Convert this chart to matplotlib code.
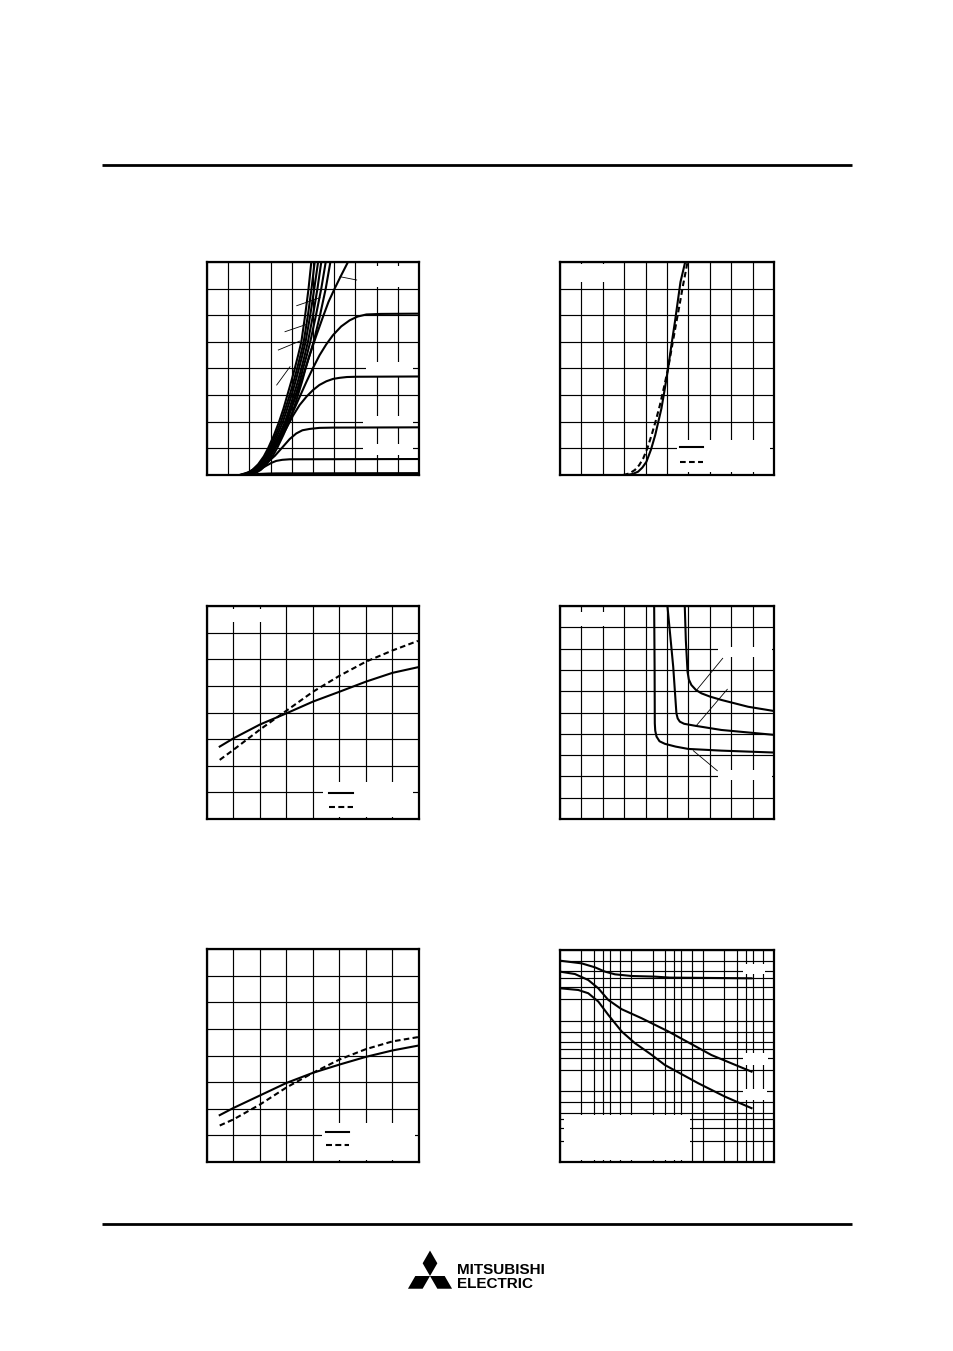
import matplotlib
matplotlib.use("Agg")
import matplotlib.pyplot as plt
from matplotlib.patches import Rectangle, Polygon
import numpy as np

plt.rcParams['lines.scale_dashes'] = False

W, H = 954, 1351

# ---------------- data (grid units unless noted) ----------------
# plot 1: family of curves, x 0..10 div, y 0..8 div
steep_y = [0, 0.1, 0.2, 0.4, 0.7, 1, 1.5, 2, 2.5, 3, 3.5, 4, 4.5, 5, 6, 7, 8]
steep_x = [
    [1.54, 1.95, 2.15, 2.41, 2.68, 2.88, 3.16, 3.40, 3.61, 3.79, 3.97, 4.14, 4.30, 4.45, 4.63, 4.79, 4.92],
    [1.62, 2.03, 2.23, 2.48, 2.76, 2.96, 3.24, 3.49, 3.70, 3.90, 4.08, 4.25, 4.41, 4.56, 4.76, 4.93, 5.08],
    [1.70, 2.11, 2.31, 2.56, 2.83, 3.03, 3.32, 3.58, 3.79, 3.99, 4.17, 4.34, 4.50, 4.65, 4.87, 5.06, 5.24],
    [1.78, 2.19, 2.39, 2.64, 2.91, 3.11, 3.41, 3.68, 3.89, 4.09, 4.28, 4.45, 4.61, 4.76, 5.00, 5.21, 5.39],
    [1.86, 2.27, 2.47, 2.72, 3.00, 3.21, 3.50, 3.77, 3.98, 4.18, 4.37, 4.53, 4.71, 4.87, 5.14, 5.39, 5.60],
    [1.93, 2.35, 2.55, 2.80, 3.09, 3.30, 3.60, 3.87, 4.09, 4.29, 4.48, 4.65, 4.84, 5.03, 5.33, 5.60, 5.82],
]
curve_f_x = [1.54, 1.80, 2.01, 2.38, 2.64, 3.08, 3.43, 3.83, 4.21, 4.52, 4.84, 5.14, 5.47, 5.73, 6.02, 6.33, 6.65]
curve_f_y = [0, 0.05, 0.12, 0.30, 0.50, 1.0, 1.5, 2.2, 3.0, 3.7, 4.5, 5.2, 5.94, 6.5, 7.0, 7.5, 8.0]
curve_e_x = [1.70, 1.95, 2.20, 2.48, 2.85, 3.27, 3.65, 4.06, 4.38, 4.69, 5.00, 5.31, 5.62, 5.94,
             6.33, 6.73, 7.10, 7.52, 8.20, 10]
curve_e_y = [0, 0.05, 0.17, 0.38, 0.72, 1.12, 1.72, 2.38, 2.95, 3.50, 4.02, 4.50, 4.90, 5.25,
             5.58, 5.81, 5.95, 6.03, 6.05, 6.06]
curve_d_x = [1.70, 1.95, 2.17, 2.55, 2.96, 3.35, 3.74, 4.05, 4.37, 4.70, 5.00, 5.30, 5.63, 5.95,
             6.26, 6.60, 7.04, 10]
curve_d_y = [0, 0.06, 0.19, 0.42, 0.75, 1.20, 1.75, 2.22, 2.63, 2.95, 3.19, 3.38, 3.52, 3.61,
             3.65, 3.68, 3.69, 3.70]
curve_c_x = [1.62, 1.85, 2.01, 2.40, 2.80, 3.20, 3.58, 3.90, 4.21, 4.50, 4.84, 5.30, 5.94, 10]
curve_c_y = [0, 0.04, 0.10, 0.25, 0.44, 0.72, 1.06, 1.35, 1.56, 1.68, 1.73, 1.77, 1.78, 1.79]
curve_b_x = [1.62, 1.90, 2.17, 2.50, 2.80, 3.05, 3.27, 3.55, 3.90, 10]
curve_b_y = [0, 0.04, 0.10, 0.21, 0.35, 0.46, 0.53, 0.57, 0.59, 0.60]
curve_a_x = [1.70, 2.00, 2.48, 2.90, 3.27, 10]
curve_a_y = [0, 0.015, 0.04, 0.055, 0.06, 0.07]

# plot 2: transfer curves, two temperatures
tr_solid_x = [3.11, 3.40, 3.65, 3.85, 4.04, 4.25, 4.45, 4.60, 4.74, 4.90, 5.05, 5.21, 5.37, 5.50, 5.63, 5.85]
tr_solid_y = [0, 0.04, 0.125, 0.28, 0.50, 0.95, 1.50, 2.02, 2.50, 3.25, 4.00, 4.90, 5.75, 6.50, 7.25, 8.0]
tr_dash_x = [2.95, 3.25, 3.50, 3.70, 3.89, 4.08, 4.28, 4.48, 4.67, 4.86, 5.05, 5.25, 5.44, 5.60, 5.75, 5.96]
tr_dash_y = [0, 0.06, 0.19, 0.37, 0.625, 1.0, 1.50, 2.05, 2.63, 3.30, 4.00, 4.90, 5.75, 6.45, 7.13, 8.0]

# plot 3
p3_x = [0.48, 1.0, 2.0, 3.0, 4.0, 5.0, 6.0, 7.0, 7.96]
p3_solid = [2.72, 3.03, 3.55, 3.97, 4.41, 4.78, 5.16, 5.49, 5.70]
p3_dash = [2.22, 2.60, 3.36, 4.07, 4.78, 5.38, 5.91, 6.33, 6.69]

# plot 4: three curves
p4_a_x = [4.40, 4.42, 4.43, 4.45, 4.51, 4.65, 4.90, 5.40, 5.99, 7.54, 10]
p4_a_y = [10, 7.15, 4.49, 4.15, 3.87, 3.65, 3.53, 3.40, 3.29, 3.21, 3.12]
p4_b_x = [5.02, 5.29, 5.44, 5.50, 5.60, 5.80, 6.30, 7.54, 10]
p4_b_y = [10, 7.15, 4.96, 4.72, 4.57, 4.47, 4.38, 4.18, 3.95]
p4_c_x = [5.83, 5.88, 5.96, 6.02, 6.14, 6.35, 6.61, 7.00, 7.54, 8.79, 10]
p4_c_y = [10, 8.39, 6.91, 6.55, 6.29, 6.06, 5.90, 5.75, 5.59, 5.27, 5.07]

# plot 5
p5_x = [0.48, 1.0, 2.0, 3.0, 4.0, 5.0, 6.0, 7.0, 7.96]
p5_solid = [1.76, 2.03, 2.50, 2.97, 3.35, 3.66, 3.95, 4.19, 4.37]
p5_dash = [1.37, 1.60, 2.16, 2.80, 3.35, 3.85, 4.24, 4.53, 4.69]

# plot 6: capacitance, log-log (x 0.1..100, y 10..10000)
ciss_x = [0.1, 0.201, 0.309, 0.427, 0.59, 1.01, 2.14, 3.46, 48.4]
ciss_y = [7060, 6471, 5685, 4943, 4528, 4285, 4200, 4067, 3975]
coss_x = [0.1, 0.162, 0.249, 0.344, 0.475, 0.731, 1.39, 3.3, 13.3, 48.4]
coss_y = [4943, 4571, 3760, 2873, 1965, 1453, 1084, 704, 326, 190]
crss_x = [0.1, 0.18, 0.249, 0.344, 0.475, 0.731, 1.12, 1.92, 2.95, 8.69, 20.5, 48.4]
crss_y = [2873, 2719, 2443, 1866, 1208, 704, 482, 329, 236, 130, 84.2, 57.8]

# ---------------- drawing ----------------
fig = plt.figure(figsize=(W / 100, H / 100), dpi=100)

page = fig.add_axes([0, 0, 1, 1])
page.set_xlim(0, W)
page.set_ylim(H, 0)
page.axis("off")
page.plot([102, 852], [165, 165], color="black", lw=2.0, solid_capstyle="butt")
page.plot([102, 852], [1224, 1224], color="black", lw=2.0, solid_capstyle="butt")

# logo: three diamonds + name
cx, cy, a = 430.0, 1276.0, 14.7
for th in (90, 210, 330):
    pts = [(cx, cy)]
    for ang, r in ((th - 30, a), (th, a * np.sqrt(3)), (th + 30, a)):
        rr = np.radians(ang)
        pts.append((cx + r * np.cos(rr), cy - r * np.sin(rr)))
    page.add_patch(Polygon(pts, closed=True, fc="black", ec="none"))
page.text(457.5, 1273.5, "MITSUBISHI", fontsize=11, fontweight="bold",
          family="Liberation Sans", va="baseline", ha="left")
page.text(457.5, 1288.5, "ELECTRIC", fontsize=11, fontweight="bold",
          family="Liberation Sans", va="baseline", ha="left")


def make_axes(bx, nx, ny, log=False):
    l, t, r, b = bx
    ax = fig.add_axes([l / W, 1 - b / H, (r - l) / W, (b - t) / H])
    if not log:
        ax.set_xlim(0, nx)
        ax.set_ylim(0, ny)
        ax.set_xticks(range(nx + 1))
        ax.set_yticks(range(ny + 1))
    ax.tick_params(length=0, labelbottom=False, labelleft=False, which="both")
    ax.grid(True, color="black", lw=0.85, which="major")
    ax.set_axisbelow(True)
    for s in ax.spines.values():
        s.set_linewidth(1.6)
    return ax


def frac(bx, x, y):
    l, t, r, b = bx
    return (x - l) / (r - l), (b - y) / (b - t)


def blank(ax, bx, l, t, r, b):
    x0, y0 = frac(bx, l, b)
    x1, y1 = frac(bx, r, t)
    ax.add_patch(Rectangle((x0, y0), x1 - x0, y1 - y0, transform=ax.transAxes,
                           fc="white", ec="none", zorder=1.5))


def seg(ax, bx, x0, y0, x1, y1, **kw):
    p0 = frac(bx, x0, y0)
    p1 = frac(bx, x1, y1)
    ax.plot([p0[0], p1[0]], [p0[1], p1[1]], transform=ax.transAxes, color="black", **kw)


LW = 1.5
DASH = (4.0, 2.4)

# plot 1
b1 = (207, 262, 419, 475)
ax1 = make_axes(b1, 10, 8)
for xs in steep_x:
    ax1.plot(xs, steep_y, color="black", lw=LW)
for xs, ys in ((curve_f_x, curve_f_y), (curve_e_x, curve_e_y), (curve_d_x, curve_d_y),
               (curve_c_x, curve_c_y), (curve_b_x, curve_b_y), (curve_a_x, curve_a_y)):
    ax1.plot(xs, ys, color="black", lw=LW)
blank(ax1, b1, 358, 266, 414, 287)
blank(ax1, b1, 366, 362, 413, 376)
blank(ax1, b1, 363, 416, 413, 428)
blank(ax1, b1, 363, 444, 413, 455)
for x0, y0, x1, y1 in ((340, 276.7, 356.7, 280), (296.7, 305.7, 320, 297.7),
                       (285, 331.7, 306.7, 324.3), (278.3, 350, 300, 341),
                       (276.7, 385, 290, 366.7)):
    seg(ax1, b1, x0, y0, x1, y1, lw=0.6)

# plot 2
b2 = (560, 262, 774, 475)
ax2 = make_axes(b2, 10, 8)
ax2.plot(tr_solid_x, tr_solid_y, color="black", lw=LW)
ax2.plot(tr_dash_x, tr_dash_y, color="black", lw=LW, ls=(0, DASH))
blank(ax2, b2, 562, 264, 622, 282)
blank(ax2, b2, 677, 440, 770, 472)
seg(ax2, b2, 680, 446.7, 703.3, 446.7, lw=LW)
seg(ax2, b2, 680, 461.7, 703.3, 461.7, lw=LW, ls=(0, (4.1, 2.4)))

# plot 3
b3 = (207, 606, 419, 819)
ax3 = make_axes(b3, 8, 8)
ax3.plot(p3_x, p3_solid, color="black", lw=LW)
ax3.plot(p3_x, p3_dash, color="black", lw=LW, ls=(0, DASH))
blank(ax3, b3, 231, 609, 262, 622)
blank(ax3, b3, 323, 782, 413, 816.5)
seg(ax3, b3, 329.3, 792.7, 352.7, 792.7, lw=LW)
seg(ax3, b3, 329.3, 806.7, 352.7, 806.7, lw=LW, ls=(0, (4.3, 2.4)))

# plot 4
b4 = (560, 606, 774, 819)
ax4 = make_axes(b4, 10, 10)
for xs, ys in ((p4_a_x, p4_a_y), (p4_b_x, p4_b_y), (p4_c_x, p4_c_y)):
    ax4.plot(xs, ys, color="black", lw=LW)
blank(ax4, b4, 563, 612, 622, 626)
blank(ax4, b4, 718, 647, 772, 657)
blank(ax4, b4, 718, 770, 772, 780)
for x0, y0, x1, y1 in ((722.7, 658.3, 696.7, 690), (727.3, 689.3, 696, 726),
                       (717.3, 770.7, 693.3, 750.7)):
    seg(ax4, b4, x0, y0, x1, y1, lw=0.6)

# plot 5
b5 = (207, 949, 419, 1162)
ax5 = make_axes(b5, 8, 8)
ax5.plot(p5_x, p5_solid, color="black", lw=LW)
ax5.plot(p5_x, p5_dash, color="black", lw=LW, ls=(0, DASH))
blank(ax5, b5, 322, 1123, 415, 1159.5)
seg(ax5, b5, 326, 1132, 349.3, 1132, lw=LW)
seg(ax5, b5, 326, 1145.3, 349.3, 1145.3, lw=LW, ls=(0, (4.3, 2.4)))

# plot 6 (log-log)
b6 = (560, 950, 774, 1162)
ax6 = make_axes(b6, 0, 0, log=True)
ax6.set_xscale("log")
ax6.set_yscale("log")
ax6.set_xlim(0.1, 100)
ax6.set_ylim(10, 10000)
mant = [1, 2, 3, 4, 5, 7]
ax6.set_xticks([m * d for d in (0.1, 1, 10) for m in mant] + [100])
ax6.set_yticks([m * d for d in (10, 100, 1000) for m in mant] + [10000])
ax6.minorticks_off()
ax6.tick_params(length=0, labelbottom=False, labelleft=False, which="both")
ax6.plot(ciss_x, ciss_y, color="black", lw=LW)
ax6.plot(coss_x, coss_y, color="black", lw=LW)
ax6.plot(crss_x, crss_y, color="black", lw=LW)
blank(ax6, b6, 563.5, 1114.5, 689.5, 1160)
blank(ax6, b6, 743.3, 964, 765, 974)
blank(ax6, b6, 743.3, 1053, 767.5, 1065)
blank(ax6, b6, 743.3, 1088.5, 767, 1100)

fig.savefig("out.png", dpi=100)
